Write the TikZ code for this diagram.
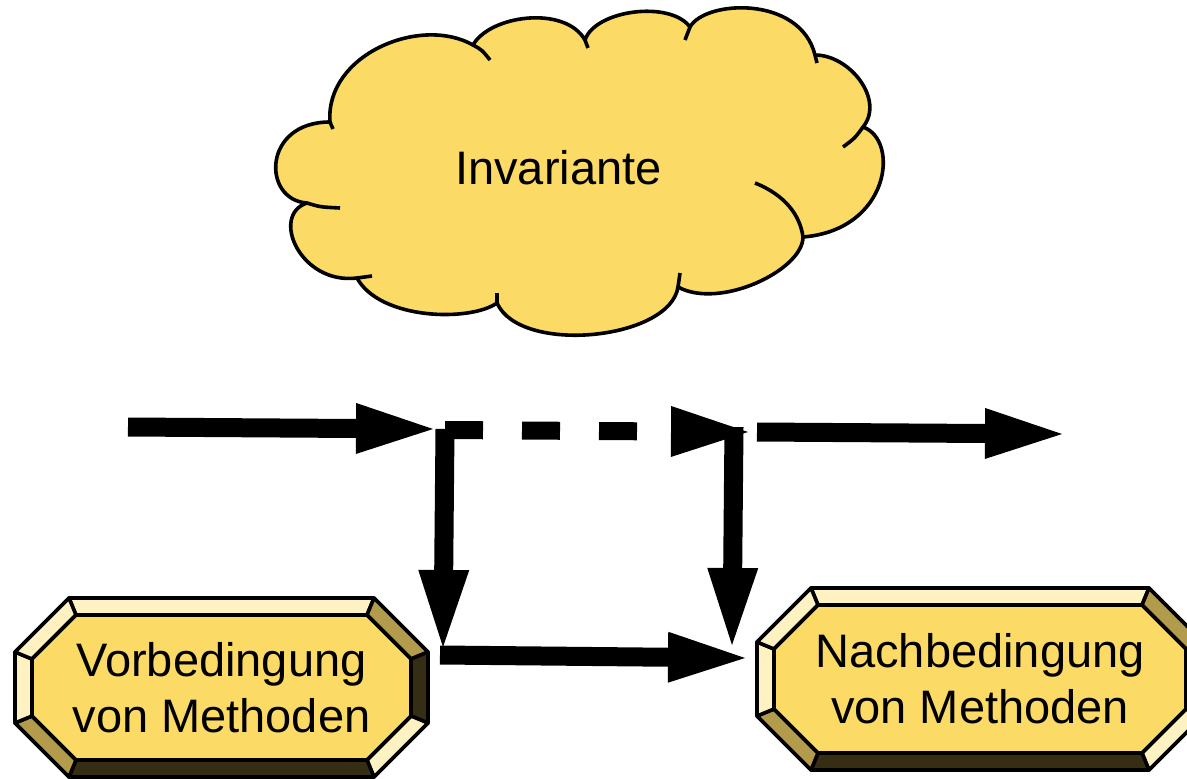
\documentclass[tikz,border=0pt]{standalone}
\usepackage{fontspec}
\setmainfont{Liberation Sans}
\usetikzlibrary{arrows.meta}

\definecolor{cloudyellow}{HTML}{FCDA66}
\definecolor{bevlight}{HTML}{FFF2C2}
\definecolor{bevmid}{HTML}{B39B4C}
\definecolor{bevdark}{HTML}{352D14}

\tikzset{
  bigarrow/.style={line width=19pt,-{Triangle[length=77pt,width=51pt,line width=0pt]}},
  boxtext/.style={font=\fontsize{47}{56}\selectfont,align=center,inner sep=0pt},
  rim/.style={draw=black,line width=3.6pt,line join=round},
}

% name, center x, center y, half width, half height, text
\newcommand{\bevelbox}[6]{%
  \begin{scope}[shift={(#2,#3)}]
    \pgfmathsetmacro\octa{#4-54}
    \pgfmathsetmacro\octb{#5-54}
    \pgfmathsetmacro\octai{#4-61}
    \pgfmathsetmacro\octbi{#5-61}
    \pgfmathsetmacro\octwi{#4-17}
    \pgfmathsetmacro\octhi{#5-17}
    \coordinate (o1) at (-\octa,-#5);  \coordinate (i1) at (-\octai,-\octhi);
    \coordinate (o2) at (\octa,-#5);   \coordinate (i2) at (\octai,-\octhi);
    \coordinate (o3) at (#4,-\octb);   \coordinate (i3) at (\octwi,-\octbi);
    \coordinate (o4) at (#4,\octb);    \coordinate (i4) at (\octwi,\octbi);
    \coordinate (o5) at (\octa,#5);    \coordinate (i5) at (\octai,\octhi);
    \coordinate (o6) at (-\octa,#5);   \coordinate (i6) at (-\octai,\octhi);
    \coordinate (o7) at (-#4,\octb);   \coordinate (i7) at (-\octwi,\octbi);
    \coordinate (o8) at (-#4,-\octb);  \coordinate (i8) at (-\octwi,-\octbi);
    \foreach \i/\j/\col in {1/2/bevlight,2/3/bevmid,3/4/bevdark,4/5/bevlight,
                            5/6/bevdark,6/7/bevmid,7/8/bevlight,8/1/bevlight}
      \filldraw[rim,fill=\col] (o\i) -- (o\j) -- (i\j) -- (i\i) -- cycle;
    \filldraw[rim,fill=cloudyellow] (i1) -- (i2) -- (i3) -- (i4) -- (i5) -- (i6) -- (i7) -- (i8) -- cycle;
  \end{scope}
  \node[boxtext] (#1) at (#2,#3) {#6};
}

\begin{document}
\begin{tikzpicture}[x=1pt,y=-1pt]
\useasboundingbox (0,0) rectangle (1187,779);

% cloud
\filldraw[rim,fill=cloudyellow] (330,122)
  .. controls (325,55) and (420,15) .. (473,45)
  .. controls (490,15) and (565,5) .. (585,40)
  .. controls (595,10) and (670,0) .. (690,27)
  .. controls (705,0) and (800,-5) .. (815,55)
  .. controls (850,55) and (885,100) .. (863,127)
  .. controls (900,140) and (890,230) .. (803,237)
  .. controls (803,270) and (720,310) .. (678,287)
  .. controls (670,340) and (520,355) .. (497,303)
  .. controls (470,322) and (380,320) .. (357,278)
  .. controls (300,285) and (270,215) .. (307,203)
  .. controls (262,200) and (262,122) .. (330,122) -- cycle;
\draw[rim] (473,45) .. controls (482,50) .. (490,60);
\draw[rim] (585,40) -- (588,48);
\draw[rim] (685,40) -- (690,27);
\draw[rim] (815,55) -- (817,63);
\draw[rim] (863,127) .. controls (855,138) .. (843,147);
\draw[rim] (755,183) .. controls (785,195) and (800,215) .. (803,237);
\draw[rim] (680,273) -- (678,287);
\draw[rim] (497,293) -- (497,303);
\draw[rim] (357,278) -- (372,276);
\draw[rim] (307,203) .. controls (320,207) .. (340,208);
\draw[rim] (330,122) -- (333,129);
\node[boxtext] (inv) at (558.5,168) {Invariante};

\bevelbox{vor}{221.5}{687.5}{206.5}{89.5}{Vorbedingung\\von Methoden}
\bevelbox{nach}{980}{679}{223}{91}{Nachbedingung\\von Methoden}

\coordinate (in) at (128,427);
\coordinate (jl) at (433,429);
\coordinate (dl) at (445,430);
\coordinate (jr) at (748,432);
\coordinate (dlt) at (445,429);
\coordinate (dlb) at (443,647);
\coordinate (bs) at (440,655);
\coordinate (be) at (745,658);
\coordinate (drt) at (734,427);
\coordinate (drb) at (732,645);
\coordinate (os) at (757,432);
\coordinate (oe) at (1062,434);

\draw[bigarrow] (in) -- (jl);
\draw[bigarrow,line width=18pt,dash pattern=on 38pt off 39pt] (dl) -- (jr);
\draw[bigarrow] (dlt) -- (dlb);
\draw[bigarrow] (drt) -- (drb);
\draw[bigarrow] (bs) -- (be);
\draw[bigarrow] (os) -- (oe);
\end{tikzpicture}
\end{document}
